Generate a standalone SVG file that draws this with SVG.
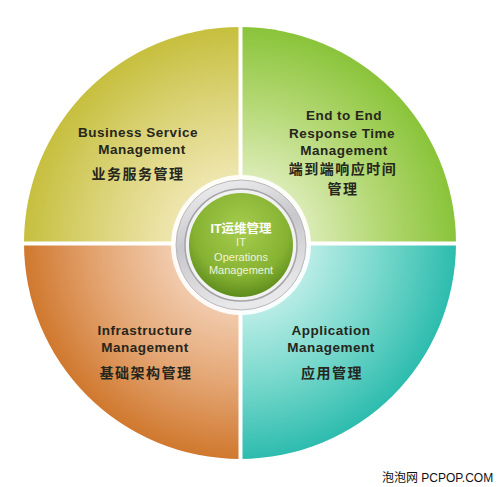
<svg xmlns="http://www.w3.org/2000/svg" width="500" height="487" viewBox="0 0 500 487">
<defs>
<radialGradient id="gTL" cx="240" cy="243" r="216" gradientUnits="userSpaceOnUse">
<stop offset="0.3" stop-color="#efe6b0"/><stop offset="0.65" stop-color="#dcd47a"/><stop offset="1" stop-color="#c6bf3e"/>
</radialGradient>
<radialGradient id="gTR" cx="240" cy="243" r="216" gradientUnits="userSpaceOnUse">
<stop offset="0.3" stop-color="#dcecb8"/><stop offset="0.65" stop-color="#b4d874"/><stop offset="1" stop-color="#8ac43a"/>
</radialGradient>
<radialGradient id="gBL" cx="240" cy="243" r="216" gradientUnits="userSpaceOnUse">
<stop offset="0.3" stop-color="#f2cdb0"/><stop offset="0.65" stop-color="#e4a674"/><stop offset="1" stop-color="#d0782e"/>
</radialGradient>
<radialGradient id="gBR" cx="240" cy="243" r="216" gradientUnits="userSpaceOnUse">
<stop offset="0.3" stop-color="#bdeee8"/><stop offset="0.65" stop-color="#78d8cc"/><stop offset="1" stop-color="#2dbcae"/>
</radialGradient>
<linearGradient id="gRing" x1="0" y1="0" x2="0.3" y2="1">
<stop offset="0" stop-color="#f4f4f6"/><stop offset="0.5" stop-color="#c8c8cc"/><stop offset="1" stop-color="#e8e8ea"/>
</linearGradient>
<radialGradient id="gCore" cx="0.5" cy="0.35" r="0.65">
<stop offset="0" stop-color="#a6cc4e"/><stop offset="0.7" stop-color="#86b232"/><stop offset="1" stop-color="#5e8c1c"/>
</radialGradient>
<style>
.lab{font-family:"Liberation Sans",Arial,"Noto Sans CJK SC",sans-serif;font-weight:bold;font-size:13.5px;text-anchor:middle;fill:#26261c;letter-spacing:0.5px}
.cjk{font-family:"Noto Sans CJK SC","Liberation Sans",sans-serif;font-weight:bold;font-size:14px;text-anchor:middle;fill:#26261c;letter-spacing:1.5px}
.cw{font-family:"Liberation Sans","Noto Sans CJK SC",sans-serif;text-anchor:middle;fill:#eef4dc;font-size:11px}
</style>
</defs>
<rect width="500" height="487" fill="#ffffff"/>
<g id="quad-business">
<path d="M240,243 L24,243 A216,216 0 0 1 240,27 Z" fill="url(#gTL)"/>
<text class="lab" x="138" y="137">Business Service</text>
<text class="lab" x="142" y="154">Management</text>
<text class="cjk" x="138" y="179">业务服务管理</text>
</g>
<g id="quad-response">
<path d="M240,243 L240,27 A216,216 0 0 1 456,243 Z" fill="url(#gTR)"/>
<text class="lab" x="344" y="120">End to End</text>
<text class="lab" x="342" y="138">Response Time</text>
<text class="lab" x="344" y="155">Management</text>
<text class="cjk" x="343" y="174">端到端响应时间</text>
<text class="cjk" x="343" y="194">管理</text>
</g>
<g id="quad-infra">
<path d="M240,243 L240,459 A216,216 0 0 1 24,243 Z" fill="url(#gBL)"/>
<text class="lab" x="145" y="335">Infrastructure</text>
<text class="lab" x="145" y="352">Management</text>
<text class="cjk" x="146" y="378">基础架构管理</text>
</g>
<g id="quad-app">
<path d="M240,243 L456,243 A216,216 0 0 1 240,459 Z" fill="url(#gBR)"/>
<text class="lab" x="331" y="335">Application</text>
<text class="lab" x="331" y="352">Management</text>
<text class="cjk" x="332" y="378">应用管理</text>
</g>
<g id="dividers" stroke="#ffffff" stroke-width="4">
<line x1="240.5" y1="20" x2="240.5" y2="465"/>
<line x1="18" y1="243.5" x2="462" y2="243.5"/>
</g>
<g id="center">
<circle cx="241" cy="245" r="70" fill="#ffffff" opacity="0.9"/>
<circle cx="241" cy="245" r="65" fill="url(#gRing)" stroke="#b8b8bc" stroke-width="1"/>
<circle cx="241" cy="245" r="56" fill="#f2f2f2" stroke="#a4a4a8" stroke-width="1.5"/>
<circle cx="241" cy="245" r="52" fill="url(#gCore)"/>
<text class="cw" x="241" y="233" style="font-weight:bold;font-size:12.5px;fill:#ffffff">IT运维管理</text>
<text class="cw" x="241" y="246">IT</text>
<text class="cw" x="241" y="261">Operations</text>
<text class="cw" x="241" y="274">Management</text>
</g>
<g id="watermark">
<text x="382" y="482" font-family="'Liberation Sans','Noto Sans CJK SC',sans-serif" font-size="12" fill="#111111">泡泡网  PCPOP.COM</text>
</g>
</svg>
